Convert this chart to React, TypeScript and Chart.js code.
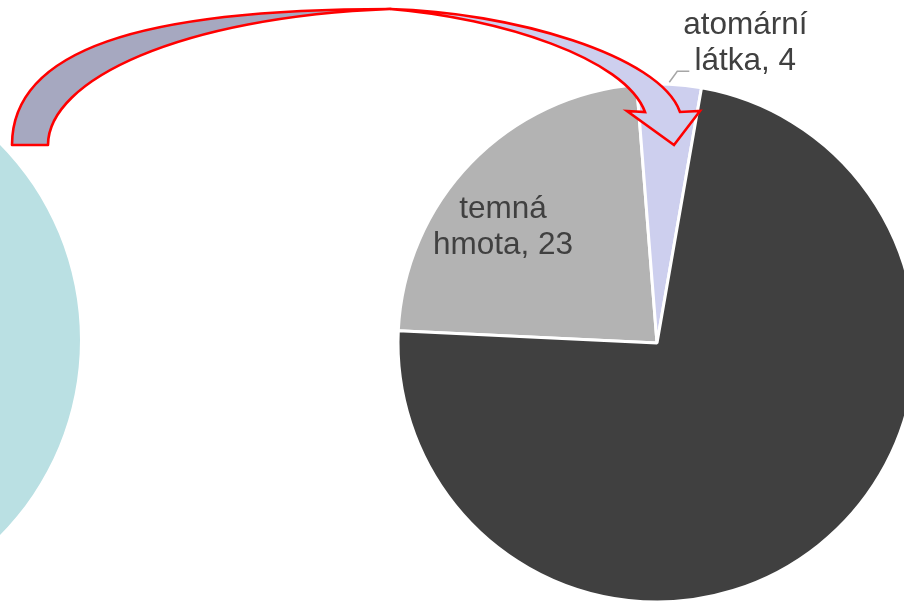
import React, { useEffect, useRef } from "react";
import { Chart, registerables } from "chart.js";

Chart.register(...registerables);

// ---- data ----
const categories = ["temná hmota", "atomární látka", "temná energie"];
const values = [23, 4, 73];
const showValueLabel = [true, true, false];
const sliceColors = ["#B3B3B3", "#CDCFEE", "#404040"];

const wholeCategories = ["vesmír"];
const wholeValues = [100];
const wholeColors = ["#BAE0E3"];

// ---- styles ----
const FONT = "31.5px 'Liberation Sans', Arial, sans-serif";
const TEXT_COLOR = "#404040";
const LINE_H = 36;

function labelLines(i: number): string[] {
  const words = categories[i].split(" ");
  return [words[0], words.slice(1).join(" ") + ", " + values[i]];
}

const arrowPlugin = {
  id: "curvedArrow",
  afterDatasetsDraw(chart: any) {
    const ctx = chart.ctx as CanvasRenderingContext2D;
    ctx.save();
    ctx.lineWidth = 2.6;
    ctx.strokeStyle = "#FF0000";
    ctx.lineJoin = "round";
    // back (darker) part
    ctx.beginPath();
    ctx.moveTo(12, 145);
    ctx.bezierCurveTo(12, 50, 140, 9, 390, 9);
    ctx.bezierCurveTo(180, 17, 48, 80, 48, 145);
    ctx.closePath();
    ctx.fillStyle = "#A6A8C0";
    ctx.fill();
    ctx.stroke();
    // front (lighter) part with head
    ctx.lineJoin = "miter";
    ctx.beginPath();
    ctx.moveTo(390, 9);
    ctx.bezierCurveTo(510, 12, 660, 55, 680, 112);
    ctx.lineTo(700, 111);
    ctx.lineTo(674, 145);
    ctx.lineTo(627, 111);
    ctx.lineTo(645, 112);
    ctx.bezierCurveTo(625, 58, 500, 18, 390, 9);
    ctx.closePath();
    ctx.fillStyle = "#CDCFEE";
    ctx.fill();
    ctx.stroke();
    ctx.restore();
  },
};

const labelPlugin = {
  id: "sliceLabels",
  afterDraw(chart: any) {
    const ctx = chart.ctx as CanvasRenderingContext2D;
    const meta = chart.getDatasetMeta(0);
    ctx.save();
    ctx.font = FONT;
    ctx.fillStyle = TEXT_COLOR;
    ctx.textAlign = "center";
    ctx.textBaseline = "alphabetic";
    meta.data.forEach((arc: any, i: number) => {
      if (!showValueLabel[i]) return;
      const { x, y, startAngle, endAngle, outerRadius } = arc.getProps(
        ["x", "y", "startAngle", "endAngle", "outerRadius"],
        true
      );
      const mid = (startAngle + endAngle) / 2;
      const lines = labelLines(i);
      const frac = (endAngle - startAngle) / (2 * Math.PI);
      if (frac > 0.1) {
        // inside label
        const a = mid - 0.162;
        const cx = x + Math.cos(a) * outerRadius * 0.724;
        const cy = y + Math.sin(a) * outerRadius * 0.724;
        lines.forEach((l, k) => ctx.fillText(l, cx, cy + (k - 0.5) * LINE_H));
      } else {
        // outside label with leader line
        const px = x + Math.cos(mid) * (outerRadius + 2);
        const py = y + Math.sin(mid) * (outerRadius + 2);
        const ex = px + 8;
        const ey = py - 11;
        ctx.strokeStyle = "#A6A6A6";
        ctx.lineWidth = 1.5;
        ctx.beginPath();
        ctx.moveTo(px, py);
        ctx.lineTo(ex, ey);
        ctx.lineTo(ex + 12, ey);
        ctx.stroke();
        const tx = ex + 12 + 56;
        lines.forEach((l, k) => ctx.fillText(l, tx, ey - 1 + (k - 1) * LINE_H));
      }
    });
    ctx.restore();
  },
};

export default function App() {
  const mainRef = useRef<HTMLCanvasElement>(null);
  const wholeRef = useRef<HTMLCanvasElement>(null);

  useEffect(() => {
    const whole = new Chart(wholeRef.current!, {
      type: "pie",
      data: {
        labels: wholeCategories,
        datasets: [{ data: wholeValues, backgroundColor: wholeColors, borderWidth: 0 }],
      },
      options: {
        responsive: false,
        animation: false,
        events: [],
        radius: 278,
        plugins: { legend: { display: false }, tooltip: { enabled: false } },
      } as any,
    });
    const main = new Chart(mainRef.current!, {
      type: "pie",
      data: {
        labels: categories,
        datasets: [
          {
            data: values,
            backgroundColor: sliceColors,
            borderColor: "#FFFFFF",
            borderWidth: 3,
          },
        ],
      },
      options: {
        responsive: false,
        animation: false,
        events: [],
        rotation: -87.3,
        radius: 259,
        layout: { padding: 0 },
        plugins: { legend: { display: false }, tooltip: { enabled: false } },
      } as any,
      plugins: [arrowPlugin, labelPlugin],
    });
    return () => {
      main.destroy();
      whole.destroy();
    };
  }, []);

  return (
    <div
      style={{
        position: "fixed",
        left: 0,
        top: 0,
        width: 904,
        height: 603,
        overflow: "hidden",
        background: "#FFFFFF",
      }}
    >
      <canvas
        ref={wholeRef}
        width={700}
        height={680}
        style={{ position: "absolute", left: -548, top: 0, display: "block" }}
      />
      <canvas
        ref={mainRef}
        width={1314}
        height={686}
        style={{ position: "absolute", left: 0, top: 0, display: "block" }}
      />
    </div>
  );
}
